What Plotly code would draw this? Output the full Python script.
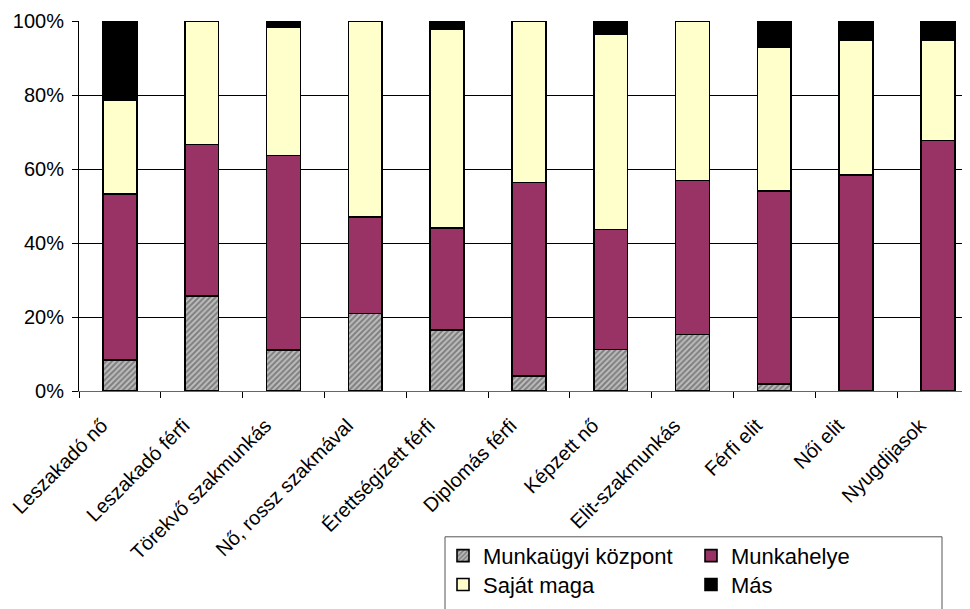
import plotly.graph_objects as go

categories = ["Leszakadó nő", "Leszakadó férfi", "Törekvő szakmunkás", "Nő, rossz szakmával",
              "Érettségizett férfi", "Diplomás férfi", "Képzett nő", "Elit-szakmunkás",
              "Férfi elit", "Női elit", "Nyugdijasok"]

munkaugyi = [8.4, 25.7, 11.1, 20.9, 16.5, 4.1, 11.2, 15.3, 1.9, 0.0, 0.0]
munkahelye = [44.8, 40.9, 52.6, 26.1, 27.6, 52.2, 32.5, 41.6, 52.2, 58.3, 67.7]
sajat = [25.3, 33.4, 34.6, 53.0, 53.6, 43.7, 52.8, 43.1, 38.8, 36.4, 27.1]
mas = [21.5, 0.0, 1.7, 0.0, 2.3, 0.0, 3.5, 0.0, 7.1, 5.3, 5.2]

series_names = ["Munkaügyi központ", "Munkahelye", "Saját maga", "Más"]
y_ticks = [0, 0.2, 0.4, 0.6, 0.8, 1.0]
y_tick_labels = ["0%", "20%", "40%", "60%", "80%", "100%"]

FONT = "Liberation Sans, Arial, sans-serif"
OFF = 8  # page body margin
W, H = 970, 609
L = 79 - OFF
T = 20.5 - OFF
B = H - (391 - OFF)
plot_h = H - T - B
plot_w = W - L

def px_x(sx):
    return (sx - OFF - L) / plot_w

def px_y(sy):
    return (H - B - (sy - OFF)) / plot_h

line = dict(color="#000000", width=1.6)

fig = go.Figure()
fig.add_trace(go.Bar(
    x=categories, y=[v / 100 for v in munkaugyi], name=series_names[0],
    marker=dict(color="#aaaaaa", line=line,
                pattern=dict(shape="/", fgcolor="#404040", bgcolor="#bdbdbd", size=4, solidity=0.5)),
    legend="legend"))
fig.add_trace(go.Bar(
    x=categories, y=[v / 100 for v in munkahelye], name=series_names[1],
    marker=dict(color="#993366", line=line), legend="legend2"))
fig.add_trace(go.Bar(
    x=categories, y=[v / 100 for v in sajat], name=series_names[2],
    marker=dict(color="#FFFFCC", line=line), legend="legend3"))
fig.add_trace(go.Bar(
    x=categories, y=[v / 100 for v in mas], name=series_names[3],
    marker=dict(color="#000000", line=line), legend="legend4"))

span = plot_w / 81.8

def leg(sx, sy):
    return dict(x=px_x(sx), y=px_y(sy), xanchor="left", yanchor="top",
                orientation="v", font=dict(family=FONT, size=22, color="black"),
                bgcolor="rgba(0,0,0,0)", borderwidth=0)

fig.update_layout(
    barmode="stack",
    width=W, height=H,
    margin=dict(l=L, r=0, t=T, b=B, pad=0, autoexpand=False),
    paper_bgcolor="white", plot_bgcolor="white",
    bargap=1 - 0.415,
    font=dict(family=FONT, size=20, color="black"),
    xaxis=dict(
        range=[-0.5, -0.5 + span],
        tickangle=-45, tickson="boundaries", ticks="outside", ticklen=6,
        tickcolor="#000", showline=True, linecolor="#666666", linewidth=1,
        showgrid=False, tickfont=dict(family=FONT, size=20, color="black"),
        ticklabelshift=-18, ticklabelstandoff=14,
        automargin=False, fixedrange=True),
    yaxis=dict(
        range=[0, 1.0], tickvals=y_ticks, ticktext=y_tick_labels,
        ticks="outside", ticklen=6, tickcolor="#000",
        showline=True, linecolor="#000", linewidth=1,
        showgrid=True, gridcolor="#000000", gridwidth=1, zeroline=False,
        tickfont=dict(family=FONT, size=20, color="black"),
        ticklabelstandoff=4,
        automargin=False, fixedrange=True),
    legend=leg(443, 535),
    legend2=leg(691, 535),
    legend3=leg(443, 564),
    legend4=leg(691, 564),
    shapes=[dict(type="rect", xref="paper", yref="paper",
                 x0=px_x(445), x1=px_x(942), y0=px_y(537), y1=px_y(650),
                 line=dict(color="#555555", width=1), fillcolor="rgba(0,0,0,0)", layer="below")],
    showlegend=True,
)

fig.write_html("out.html")
